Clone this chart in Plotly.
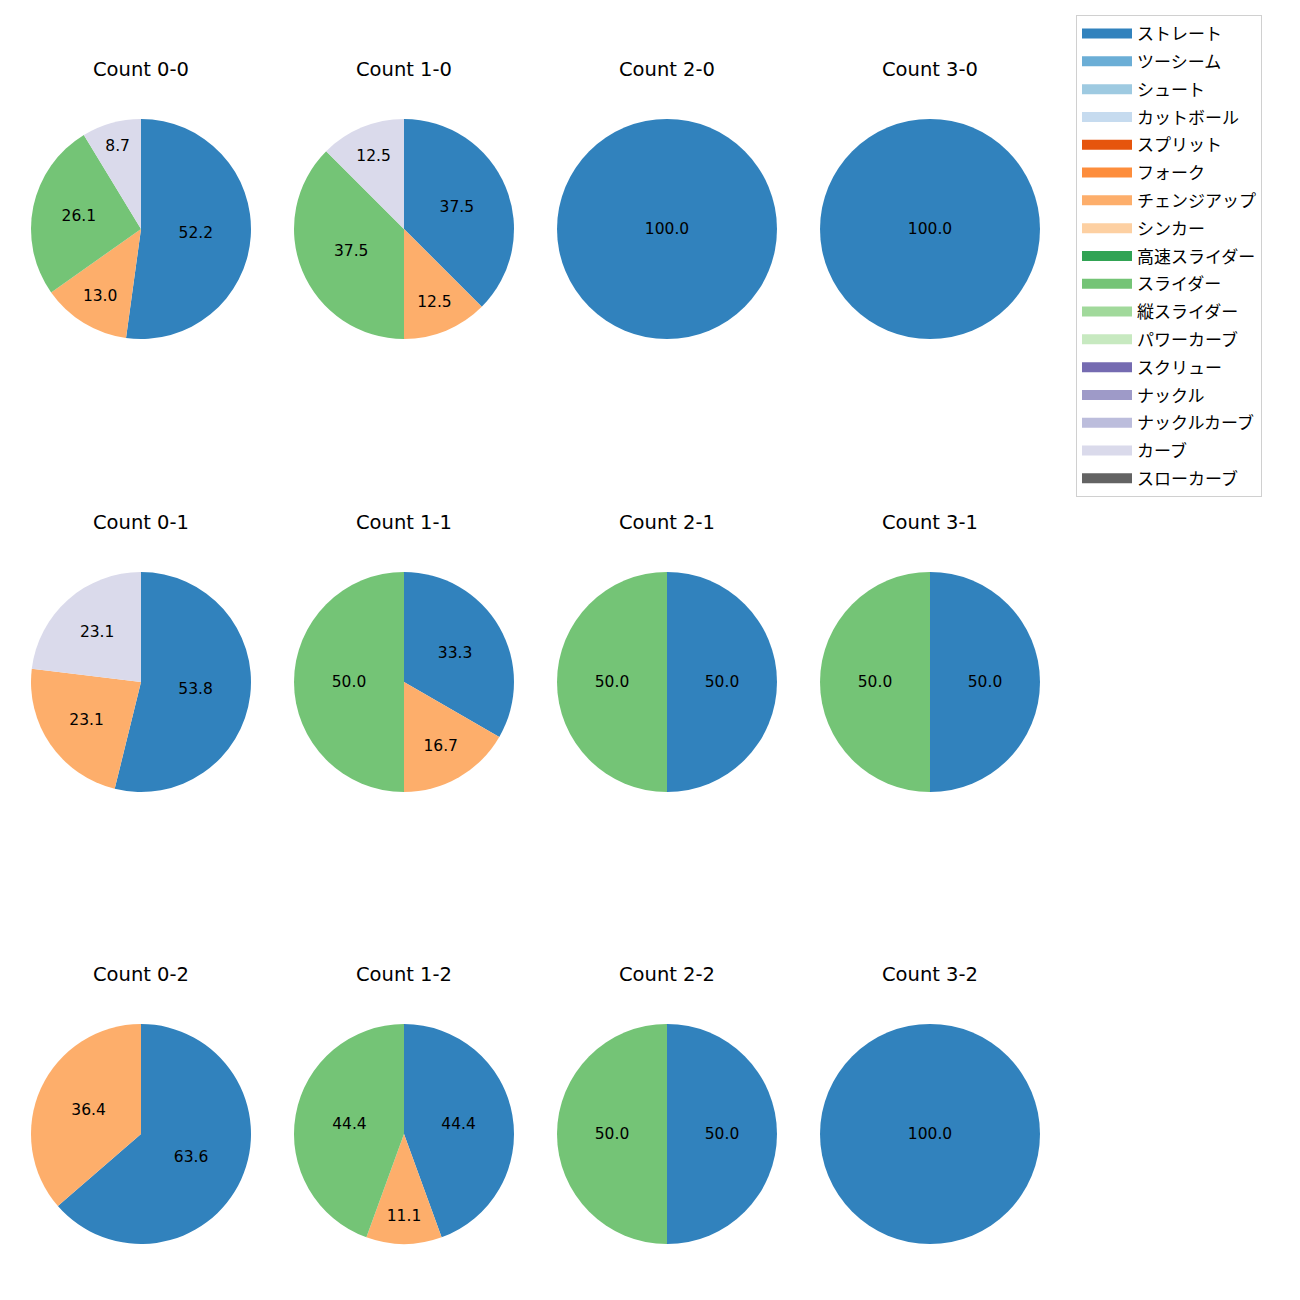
import plotly.graph_objects as go

pitch_types = ["ストレート", "ツーシーム", "シュート", "カットボール", "スプリット", "フォーク",
               "チェンジアップ", "シンカー", "高速スライダー", "スライダー", "縦スライダー",
               "パワーカーブ", "スクリュー", "ナックル", "ナックルカーブ", "カーブ", "スローカーブ"]
colors = ["#3182bd", "#6baed6", "#9ecae1", "#c6dbef", "#e6550d", "#fd8d3c", "#fdae6b", "#fdd0a2",
          "#31a354", "#74c476", "#a1d99b", "#c7e9c0", "#756bb1", "#9e9ac8", "#bcbddc", "#dadaeb",
          "#636363"]
color_map = dict(zip(pitch_types, colors))

counts = ["0-0", "1-0", "2-0", "3-0", "0-1", "1-1", "2-1", "3-1", "0-2", "1-2", "2-2", "3-2"]
pie_labels = {
    "0-0": ["ストレート", "チェンジアップ", "スライダー", "カーブ"],
    "1-0": ["ストレート", "チェンジアップ", "スライダー", "カーブ"],
    "2-0": ["ストレート"],
    "3-0": ["ストレート"],
    "0-1": ["ストレート", "チェンジアップ", "カーブ"],
    "1-1": ["ストレート", "チェンジアップ", "スライダー"],
    "2-1": ["ストレート", "スライダー"],
    "3-1": ["ストレート", "スライダー"],
    "0-2": ["ストレート", "チェンジアップ"],
    "1-2": ["ストレート", "チェンジアップ", "スライダー"],
    "2-2": ["ストレート", "スライダー"],
    "3-2": ["ストレート"],
}
pie_values = {
    "0-0": [12, 3, 6, 2],
    "1-0": [3, 1, 3, 1],
    "2-0": [1],
    "3-0": [1],
    "0-1": [7, 3, 3],
    "1-1": [2, 1, 3],
    "2-1": [1, 1],
    "3-1": [1, 1],
    "0-2": [7, 4],
    "1-2": [4, 1, 4],
    "2-2": [1, 1],
    "3-2": [1],
}

W = H = 1300
OFF = 8  # page body margin
col_centers = [141 - OFF, 404 - OFF, 667 - OFF, 930 - OFF]
row_centers = [229 - OFF, 682 - OFF, 1134 - OFF]
R = 110
NUM_FONT = "DejaVu Sans"
JP_FONT = "Noto Sans CJK JP"

fig = go.Figure()
annotations = []
for i, c in enumerate(counts):
    r, k = divmod(i, 4)
    cx, cy = col_centers[k], row_centers[r]
    vals = pie_values[c]
    tot = sum(vals)
    txt = [f"{100 * v / tot:.1f}" for v in vals]
    fig.add_trace(go.Pie(
        labels=pie_labels[c], values=vals, text=txt, textinfo="text",
        textposition="inside", insidetextorientation="horizontal",
        sort=False, direction="clockwise", rotation=0,
        marker=dict(colors=[color_map[l] for l in pie_labels[c]]),
        textfont=dict(family=NUM_FONT, size=15.5, color="black"),
        showlegend=False, hoverinfo="label+percent",
        domain=dict(x=[(cx - R) / W, (cx + R) / W], y=[1 - (cy + R) / H, 1 - (cy - R) / H]),
    ))
    annotations.append(dict(
        text=f"Count {c}", x=cx / W, y=1 - (cy - 160) / H, xref="paper", yref="paper",
        showarrow=False, font=dict(family=NUM_FONT, size=19.5, color="black"),
        xanchor="center", yanchor="middle",
    ))

for p in pitch_types:
    fig.add_trace(go.Scatter(x=[None], y=[None], mode="lines", name=p, legendgroup=p,
                             line=dict(color=color_map[p], width=13)))

fig.update_layout(
    width=W, height=H, margin=dict(l=0, r=0, t=0, b=0),
    paper_bgcolor="white", plot_bgcolor="white",
    annotations=annotations,
    xaxis=dict(visible=False), yaxis=dict(visible=False),
    legend=dict(x=(1076 - OFF) / W, y=1 - (15 - OFF) / H, xanchor="left", yanchor="top",
                font=dict(family=JP_FONT, size=17, color="black"),
                bordercolor="#d0d0d0", borderwidth=1, bgcolor="white",
                tracegroupgap=2.7, itemwidth=50),
)
fig.write_html("out.html")
